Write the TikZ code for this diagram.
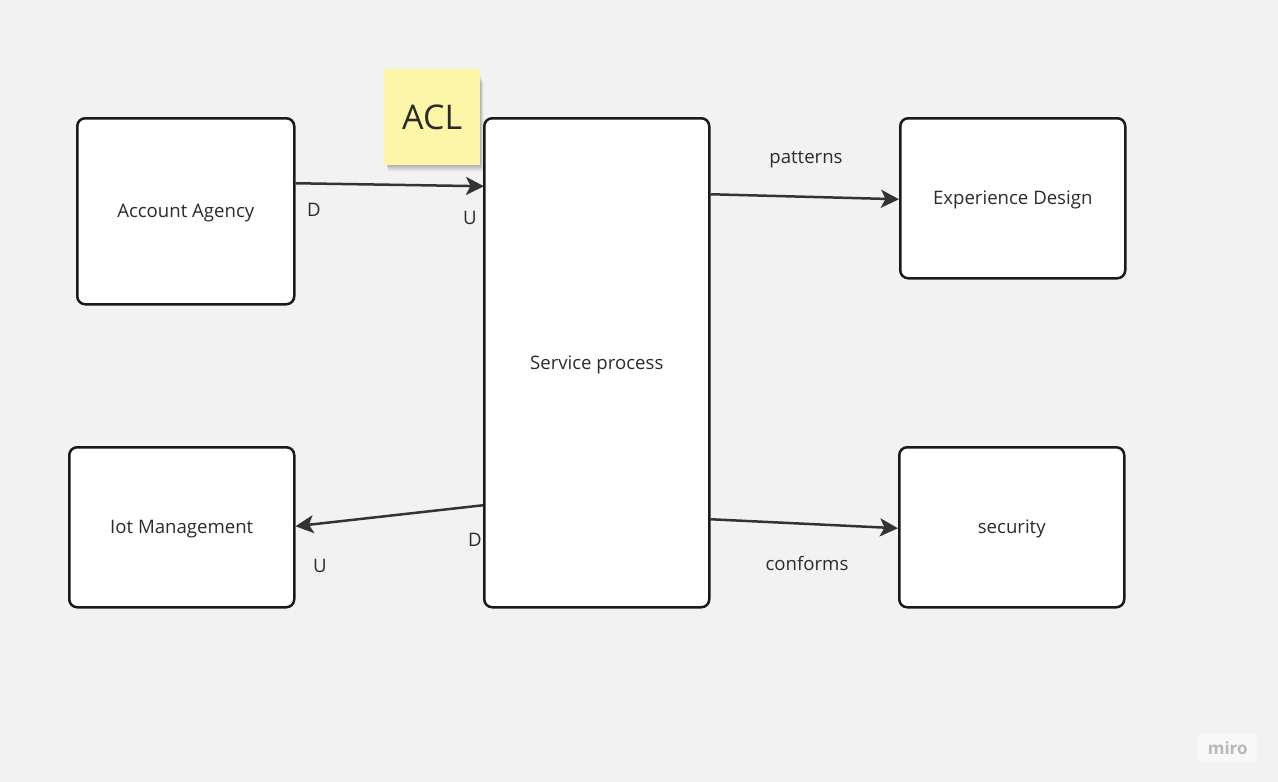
\documentclass[tikz,border=0pt]{standalone}
\usepackage{fontspec}
\setmainfont{Open Sans}
\usetikzlibrary{arrows.meta,calc}
\definecolor{bg}{HTML}{F2F2F2}
\definecolor{edge}{HTML}{1A1A1A}
\definecolor{arr}{HTML}{333333}
\definecolor{txt}{HTML}{2B2B2B}
\definecolor{sticky}{HTML}{FDF6A9}
\definecolor{mirogray}{HTML}{B8B8BC}
\tikzset{
  box/.style={draw=edge, fill=white, line width=2.5pt, rounded corners=8pt, anchor=north west, inner sep=0pt, font=\fontsize{18.6}{22}\selectfont, text=txt, text height=1.5em, text depth=0.24em},
  conn/.style={draw=arr, line width=2.5pt, -{Stealth[length=18pt,width=18pt,inset=4.5pt]}},
  lbl/.style={font=\fontsize{18.6}{22}\selectfont, text=txt, inner sep=0pt, text height=1.34em, text depth=0.24em, yshift=-2pt},
}
\begin{document}
\begin{tikzpicture}[x=1pt,y=-1pt]
\fill[bg] (0,0) rectangle (1278,782);
\useasboundingbox (0,0) rectangle (1278,782);
% boxes
\node[box, minimum width=217pt, minimum height=186pt] (aa) at (76,117) {Account Agency};
\node[box, minimum width=225pt, minimum height=160pt] (iot) at (68,446) {Iot Management};
\node[box, minimum width=225pt, minimum height=489pt] (sp) at (483,117) {Service process};
\node[box, minimum width=225pt, minimum height=160pt] (ed) at (899,117) {Experience Design};
\node[box, minimum width=225pt, minimum height=160pt] (sec) at (898,446) {security};
% sticky note with shadow
\foreach \i/\o in {1/0.05,2/0.05,3/0.05,4/0.04,5/0.04,6/0.03,7/0.02} {
  \fill[black, opacity=\o] (386+\i*0.3,75+\i*1.2) rectangle (480+\i*0.5,165+\i*1.0);
}
\node[fill=sticky, minimum width=96pt, minimum height=96pt, anchor=north west, inner sep=0pt, font=\fontsize{34}{40}\selectfont, text=txt] (acl) at (384,69) {ACL};
% connectors
\draw[conn] ([yshift=28pt]aa.east) -- ([xshift=1pt,yshift=176.5pt]sp.west);
\draw[conn] ([yshift=168.5pt]sp.east) -- ([yshift=-1pt]ed.west);
\draw[conn] ([yshift=-142.5pt]sp.west) -- ([yshift=1pt]iot.east);
\draw[conn] ([yshift=-156.5pt]sp.east) -- ([yshift=-1pt]sec.west);
% labels
\node[lbl] (d1) at (314,209) {D};
\node[lbl] (u1) at (470,217) {U};
\node[lbl] (pat) at (806,156) {patterns};
\node[lbl] (d2) at (475,539) {D};
\node[lbl] (u2) at (320,565) {U};
\node[lbl] (conf) at (807,563) {conforms};
% miro logo
\node[fill=white, fill opacity=0.5, text opacity=1, rounded corners=3pt, minimum width=59pt, minimum height=29pt, anchor=north west, inner sep=0pt, text=mirogray, font=\bfseries\fontsize{17}{20}\selectfont] (miro) at (1198,733) {miro};
\end{tikzpicture}
\end{document}
